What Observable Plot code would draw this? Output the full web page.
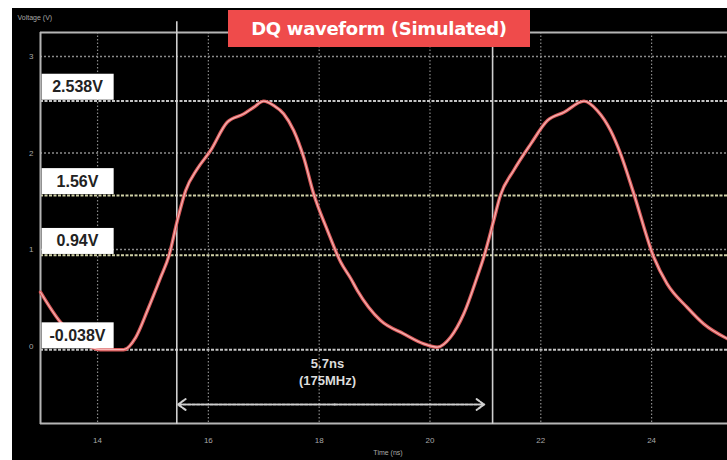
<!DOCTYPE html>
<html>
<head>
<meta charset="utf-8">
<script src="https://cdn.jsdelivr.net/npm/d3@7"></script>
<script src="https://cdn.jsdelivr.net/npm/@observablehq/plot@0.6"></script>
<style>
  html, body { margin: 0; padding: 0; background: #fff; }
  #wrap { position: relative; width: 727px; height: 460px; overflow: hidden; background: #fff; }
  #chart { position: absolute; left: 12px; top: 8px; }
  #title { position: absolute; left: 228px; top: 10px; width: 302px; height: 37px;
           background: #ef4b4b; color: #fff; font: bold 18px "DejaVu Sans", sans-serif;
           display: flex; align-items: center; justify-content: center; letter-spacing: -0.3px; }
</style>
</head>
<body>
<div id="wrap">
  <div id="chart"></div>
  <div id="title">DQ waveform (Simulated)</div>
</div>
<script>
// waveform samples (time in ns, voltage in V)
const times = [12.97, 13.33, 13.69, 14.05, 14.47, 14.69, 14.90, 15.14, 15.29, 15.44,
               15.59, 15.80, 16.04, 16.34, 16.64, 16.82, 17.00, 17.18, 17.36, 17.54,
               17.72, 17.90, 18.15, 18.39, 18.57, 18.69, 19.11, 19.53, 19.89, 20.13,
               20.37, 20.61, 20.85, 20.97, 21.15, 21.27, 21.51, 21.82, 22.12, 22.42,
               22.78, 23.02, 23.26, 23.44, 23.68, 24.04, 24.28, 24.64, 24.94, 25.37];
const volts = [0.558, 0.247, 0.057, -0.038, -0.038, 0.091, 0.368, 0.713, 0.938, 1.301,
               1.611, 1.836, 2.026, 2.319, 2.406, 2.475, 2.538, 2.492, 2.406, 2.233,
               1.956, 1.577, 1.197, 0.868, 0.700, 0.575, 0.264, 0.126, 0.023, -0.012,
               0.091, 0.334, 0.713, 0.920, 1.301, 1.560, 1.819, 2.095, 2.337, 2.423,
               2.538, 2.440, 2.233, 1.992, 1.577, 0.920, 0.645, 0.402, 0.230, 0.075];

// reference levels and their labels
const levelValues = [2.538, 1.56, 0.94, -0.038];
const levelLabels = ["2.538V", "1.56V", "0.94V", "-0.038V"];

// cursor times (ns) and period annotation
const cursorTimes = [15.43, 21.13];
const periodText = ["5.7ns", "(175MHz)"];

// axis ticks
const xTicks = [14, 16, 18, 20, 22, 24];
const yTicks = [0, 1, 2, 3];

const xDomain = [12.97, 25.37];
const yDomain = [-0.813, 3.249];

const wave = times.map((t, i) => ({t, v: volts[i]}));
const levels = levelValues.map((v, i) => ({v, label: levelLabels[i]}));
const arrowY = -0.606;
const mid = (cursorTimes[0] + cursorTimes[1]) / 2;
const arrowA = cursorTimes[0] + 0.02, arrowB = cursorTimes[1] - 0.15;
const periodRows = [{t: 18.15, v: -0.181, s: periodText[0]}, {t: 18.15, v: -0.358, s: periodText[1]}];

const chart = Plot.plot({
  width: 715,
  height: 452,
  marginLeft: 28,
  marginTop: 24,
  marginRight: 0,
  marginBottom: 36,
  style: {background: "#000", color: "#aaa", fontFamily: "Liberation Sans, sans-serif"},
  x: {domain: xDomain, label: null},
  y: {domain: yDomain, label: null},
  marks: [
    // dotted grid
    Plot.ruleX(xTicks, {stroke: "#8a8a8a", strokeWidth: 1.2, strokeDasharray: "1.5,2"}),
    Plot.ruleY([1, 2, 3], {stroke: "#8a8a8a", strokeWidth: 1.5, strokeDasharray: "2,2"}),
    // reference level lines
    Plot.ruleY(levels, {y: "v", stroke: (d) => (d.v === 1.56 || d.v === 0.94) ? "a" : "b",
      strokeWidth: 2, strokeDasharray: "3,1.5"}),
    // frame lines
    Plot.ruleY([yDomain[1]], {stroke: "#b5b5b5", strokeWidth: 2}),
    Plot.ruleY([yDomain[0] + 0.01], {stroke: "#b5b5b5", strokeWidth: 2}),
    Plot.ruleX([xDomain[0]], {stroke: "#b5b5b5", strokeWidth: 2}),
    // cursors
    Plot.ruleX(cursorTimes, {y1: yDomain[0], y2: 3.36, stroke: "#cfcfcf", strokeWidth: 1.6}),
    // waveform
    Plot.line(wave, {x: "t", y: "v", curve: "monotone-x", stroke: "#d95a5a", strokeWidth: 3.4}),
    Plot.line(wave, {x: "t", y: "v", curve: "monotone-x", stroke: "#f5b3b3", strokeWidth: 1.2}),
    // period arrow
    Plot.arrow([{a: mid, b: arrowA}, {a: mid, b: arrowB}], {x1: "a", x2: "b", y1: arrowY, y2: arrowY,
      stroke: "#cfcfcf", strokeWidth: 2, strokeDasharray: "3,1.5", headLength: 7, headAngle: 70, bend: 0}),
    Plot.text(periodRows, {x: "t", y: "v", text: "s", fill: "#dcdcdc", fontSize: 13, fontWeight: "bold"}),
    // level labels
    Plot.text(levels, {y: "v", text: "label", frameAnchor: "left", dx: 37, dy: -14, textAnchor: "middle",
      fill: "#222", fontSize: 16, fontWeight: "bold"}),
    // axes
    Plot.axisX({ticks: xTicks, tickSize: 0, tickPadding: 13, fontSize: 8, fill: "#a8a8a8", label: null}),
    Plot.axisY({ticks: yTicks, tickSize: 0, tickPadding: 7, fontSize: 8, fill: "#a8a8a8", label: null, tickFormat: d3.format("d")}),
    Plot.text(["Voltage (V)"], {frameAnchor: "top-left", dx: -23, dy: -17, textAnchor: "start", fontSize: 7, fill: "#a8a8a8"}),
    Plot.text(["Time (ns)"], {frameAnchor: "bottom", dx: 4, dy: 30, fontSize: 7, fill: "#a8a8a8"})
  ],
  color: {domain: ["a", "b"], range: ["#cfd0a6", "#c4c4c4"]}
});
document.getElementById("chart").appendChild(chart);

// white boxes behind the level labels
chart.querySelectorAll("text").forEach((t) => {
  if (!levelLabels.includes(t.textContent)) return;
  const bb = t.getBBox();
  const cx = bb.x + bb.width / 2, cy = bb.y + bb.height / 2;
  const r = document.createElementNS("http://www.w3.org/2000/svg", "rect");
  r.setAttribute("x", cx - 36);
  r.setAttribute("y", cy - 13);
  r.setAttribute("width", 72);
  r.setAttribute("height", 26);
  r.setAttribute("fill", "#fff");
  const tr = t.getAttribute("transform");
  if (tr) r.setAttribute("transform", tr);
  t.parentNode.insertBefore(r, t);
});
</script>
</body>
</html>
